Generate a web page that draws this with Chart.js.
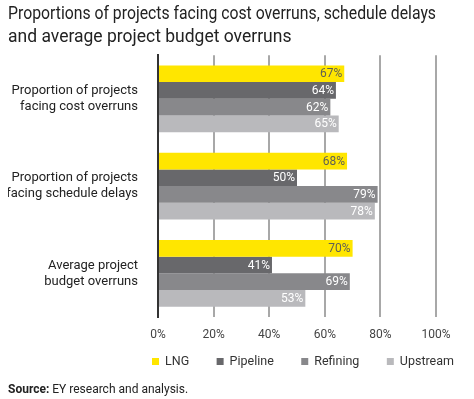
<!DOCTYPE html>
<html>
<head>
<meta charset="utf-8">
<script src="https://cdn.jsdelivr.net/npm/chart.js@4.4.1/dist/chart.umd.min.js"></script>
<style>
  html, body { margin: 0; padding: 0; background: #fff; }
  #wrap { width: 474px; height: 399px; }
</style>
</head>
<body>
<div id="wrap"><canvas id="myChart" width="474" height="399"></canvas></div>
<script>
const categories = [
    ['Proportion of projects', 'facing cost overruns'],
    ['Proportion of projects', 'facing schedule delays'],
    ['Average project', 'budget overruns']
];
const seriesNames = ['LNG', 'Pipeline', 'Refining', 'Upstream'];
const lngValues = [67, 68, 70];
const pipelineValues = [64, 50, 41];
const refiningValues = [62, 79, 69];
const upstreamValues = [65, 78, 53];
const xTicks = [0, 20, 40, 60, 80, 100];

const fontName = 'Roboto, sans-serif';
const colors = ['#ffe600', '#68686b', '#88888b', '#b9b9bc'];
const labelColors = ['#5f5f55', '#ffffff', '#ffffff', '#ffffff'];

// value labels inside the end of each bar
const barLabels = {
    id: 'barLabels',
    afterDatasetsDraw(chart) {
        const ctx = chart.ctx;
        ctx.save();
        ctx.font = '12px ' + fontName;
        ctx.textAlign = 'right';
        ctx.textBaseline = 'middle';
        chart.data.datasets.forEach((ds, i) => {
            chart.getDatasetMeta(i).data.forEach((bar, j) => {
                ctx.fillStyle = labelColors[i];
                ctx.fillText(ds.data[j] + '%', bar.x - 2, bar.y + 0.5);
            });
        });
        ctx.restore();
    }
};

// legend row and source line under the axis
const footer = {
    id: 'footer',
    afterDraw(chart) {
        const ctx = chart.ctx;
        ctx.save();
        ctx.font = '12.5px ' + fontName;
        ctx.textBaseline = 'middle';
        const left = 152, right = 454, y = 361.5;
        const items = chart.data.datasets;
        const widths = items.map(ds => 13 + ctx.measureText(ds.label).width);
        const gap = (right - left - widths.reduce((a, b) => a + b, 0)) / (items.length - 1);
        let x = left;
        items.forEach((ds, i) => {
            ctx.fillStyle = ds.backgroundColor;
            ctx.fillRect(x, y - 3.5, 7, 7);
            ctx.fillStyle = '#333';
            ctx.fillText(ds.label, x + 13, y);
            x += widths[i] + gap;
        });
        ctx.font = 'bold 12px ' + fontName;
        ctx.fillStyle = '#222';
        ctx.fillText('Source:', 8, 390);
        const w = ctx.measureText('Source: ').width;
        ctx.font = '12px ' + fontName;
        ctx.fillText('EY research and analysis.', 8 + w, 390);
        ctx.restore();
    }
};

const ctx = document.getElementById('myChart').getContext('2d');
new Chart(ctx, {
    type: 'bar',
    data: {
        labels: categories,
        datasets: [lngValues, pipelineValues, refiningValues, upstreamValues].map((vals, i) => ({
            label: seriesNames[i],
            data: vals,
            backgroundColor: colors[i],
            borderWidth: 0,
            categoryPercentage: 0.766,
            barPercentage: 1.0
        }))
    },
    options: {
        indexAxis: 'y',
        responsive: false,
        animation: false,
        layout: { padding: { left: 8, right: 38, top: 0, bottom: 58 } },
        plugins: {
            legend: { display: false },
            tooltip: { enabled: false },
            title: {
                display: true,
                text: ['Proportions of projects facing cost overruns, schedule delays',
                       'and average project budget overruns'],
                align: 'start',
                color: '#222',
                font: { family: fontName, size: 17.5, weight: 'normal', lineHeight: 1.32 },
                padding: { top: 3, bottom: 6 }
            }
        },
        scales: {
            x: {
                min: 0,
                max: 100,
                afterBuildTicks: s => { s.ticks = xTicks.map(v => ({ value: v })); },
                ticks: {
                    callback: v => v + '%',
                    color: '#444',
                    padding: 11,
                    font: { family: fontName, size: 12 }
                },
                grid: {
                    color: c => (c.tick && c.tick.value === 0) ? '#333' : '#a8a8a8',
                    lineWidth: 2,
                    drawTicks: false
                },
                border: { display: false },
                afterFit: s => { s.height = 24; }
            },
            y: {
                ticks: {
                    color: '#222',
                    padding: 20,
                    font: { family: fontName, size: 13, lineHeight: 1.23 }
                },
                grid: { display: false, drawTicks: false },
                border: { display: true, color: '#333', width: 2 },
                afterFit: s => { s.width = 150; }
            }
        }
    },
    plugins: [barLabels, footer]
});
</script>
</body>
</html>
